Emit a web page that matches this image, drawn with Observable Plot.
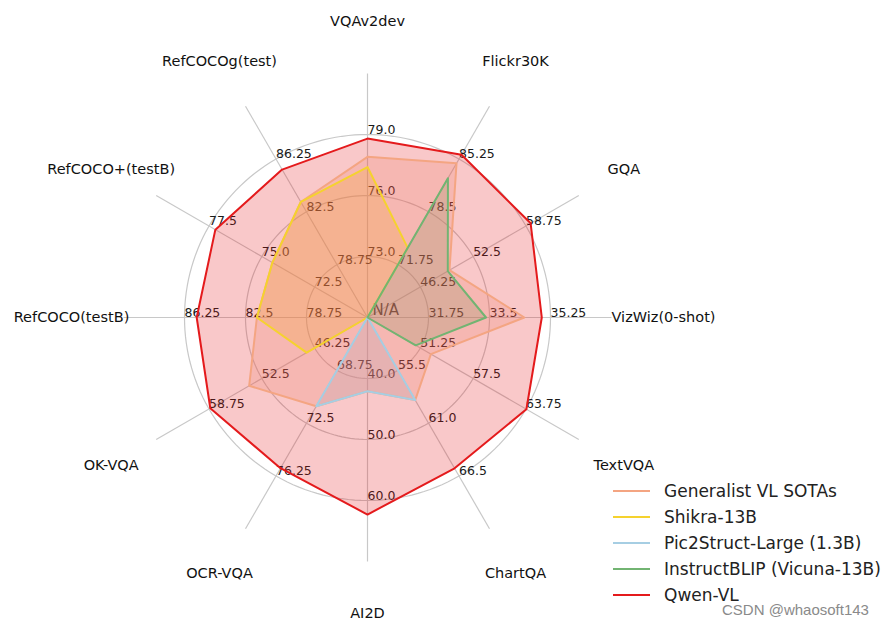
<!DOCTYPE html>
<html><head><meta charset="utf-8">
<script src="https://cdn.jsdelivr.net/npm/d3@7"></script>
<script src="https://cdn.jsdelivr.net/npm/@observablehq/plot@0.6"></script>
<style>
body{margin:0;background:#fff;font-family:"DejaVu Sans",sans-serif;}
#wrap{position:relative;width:896px;height:626px;overflow:hidden;}
#legend{position:absolute;left:613px;top:478px;font-size:17px;color:#222;}
.row{display:flex;align-items:center;height:26px;white-space:nowrap;}
.sw{width:37px;height:0;border-top:2px solid;margin-right:14px;}
#wm{position:absolute;left:722px;top:601px;font-size:15px;color:#8a8a8a;font-family:"Liberation Sans",sans-serif;}
</style></head><body>
<div id="wrap"><div id="chart"></div><div id="legend"></div><div id="wm">CSDN @whaosoft143</div></div>
<script>
// ---- data ----
const categories = ["VQAv2dev","Flickr30K","GQA","VizWiz(0-shot)","TextVQA","ChartQA","AI2D","OCR-VQA","OK-VQA","RefCOCO(testB)","RefCOCO+(testB)","RefCOCOg(test)"];
const axisMin = [70, 65, 40, 30, 45, 50, 30, 65, 40, 75, 70, 75];
const axisMax = [82, 92, 65, 37, 70, 72, 70, 80, 65, 90, 80, 90];
const tickLabels = [
  ["73.0","76.0","79.0"],
  ["71.75","78.5","85.25"],
  ["46.25","52.5","58.75"],
  ["31.75","33.5","35.25"],
  ["51.25","57.5","63.75"],
  ["55.5","61.0","66.5"],
  ["40.0","50.0","60.0"],
  ["68.75","72.5","76.25"],
  ["46.25","52.5","58.75"],
  ["78.75","82.5","86.25"],
  ["72.5","75.0","77.5"],
  ["78.75","82.5","86.25"]
];
const centerLabel = "N/A";
const seriesNames = ["Generalist VL SOTAs","Shikra-13B","Pic2Struct-Large (1.3B)","InstructBLIP (Vicuna-13B)","Qwen-VL"];
const seriesColors = ["#f4a582","#f5d22e","#a6cee3","#72b472","#e41a1c"];
const generalistValues  = [77.9, 84.7, 49.7, 34.5, 52.5, 58.6, 42.1, 71.3, 54.0, 81.8, 74.5, 83.2];
const shikraValues      = [77.4, 73.9, null, null, null, null, null, null, 47.2, 81.8, 74.5, 83.2];
const pic2structValues  = [null, null, null, null, null, 58.6, 42.1, 71.3, null, null, null, null];
const instructblipValues= [null, 82.8, 49.5, 33.4, 50.7, null, null, null, null, null, null, null];
const qwenValues        = [78.8, 85.8, 59.3, 35.0, 63.8, 65.7, 62.3, 75.7, 58.6, 85.5, 77.2, 85.5];
const seriesValues = [generalistValues, shikraValues, pic2structValues, instructblipValues, qwenValues];

// ---- layout ----
const W = 896, H = 626, cx = 367, cy = 317, R = 244;
const n = categories.length;
const ang = i => i * 2 * Math.PI / n;
const pt = (f, i) => ({x: f * Math.sin(ang(i)), y: f * Math.cos(ang(i))});

const polys = [];
seriesNames.forEach((name, s) => {
  seriesValues[s].forEach((v, i) => {
    const sc = d3.scaleLinear().domain([axisMin[i], axisMax[i]]).range([0, 1]);
    const f = v == null ? 0 : sc(v);
    polys.push({series: name, ...pt(f, i)});
  });
});

const rings = [];
[1, 2, 3].forEach(k => {
  d3.range(0, 361, 2).forEach(d => {
    const a = d * Math.PI / 180;
    rings.push({ring: k, x: k / 4 * Math.sin(a), y: k / 4 * Math.cos(a)});
  });
});
const spokes = categories.map((c, i) => ({x1: 0, y1: 0, x2: pt(1, i).x, y2: pt(1, i).y}));
const ticks = [];
categories.forEach((c, i) => tickLabels[i].forEach((t, k) => ticks.push({label: t, ...pt((k + 1) / 4, i)})));
const catLabels = categories.map((c, i) => ({label: c, ...pt(296 / R, i)}));

const chart = Plot.plot({
  width: W, height: H,
  margin: 0,
  x: {domain: [-cx / R, (W - cx) / R], range: [0, W], axis: null},
  y: {domain: [-(H - cy) / R, cy / R], range: [H, 0], axis: null},
  color: {domain: seriesNames, range: seriesColors},
  style: {fontFamily: "DejaVu Sans, sans-serif", background: "#fff"},
  marks: [
    Plot.line(rings, {x: "x", y: "y", z: "ring", stroke: "#c8c8c8", strokeWidth: 1.2}),
    Plot.link(spokes, {x1: "x1", y1: "y1", x2: "x2", y2: "y2", stroke: "#c8c8c8", strokeWidth: 1.2}),
    Plot.text(ticks, {x: "x", y: "y", text: "label", textAnchor: "start", lineAnchor: "bottom", fontSize: 12.5, fill: "#1a1a1a", dy: -1}),
    Plot.text([centerLabel], {x: () => 0, y: () => 0, text: d => d, textAnchor: "start", lineAnchor: "bottom", fontSize: 15, fill: "#333", dx: 5, dy: -3}),
    Plot.text(catLabels, {x: "x", y: "y", text: "label", fontSize: 14.5, fill: "#111"}),
    Plot.line(polys, {x: "x", y: "y", z: "series", stroke: null, fill: "series", fillOpacity: 0.24, curve: "linear-closed"}),
    Plot.line(polys, {x: "x", y: "y", z: "series", stroke: "series", strokeWidth: 2, curve: "linear-closed"})
  ]
});
document.getElementById("chart").appendChild(chart);

const lg = document.getElementById("legend");
seriesNames.forEach((s, i) => {
  const row = document.createElement("div");
  row.className = "row";
  row.innerHTML = `<div class="sw" style="border-color:${seriesColors[i]}"></div><span>${s}</span>`;
  lg.appendChild(row);
});
</script>
</body></html>
